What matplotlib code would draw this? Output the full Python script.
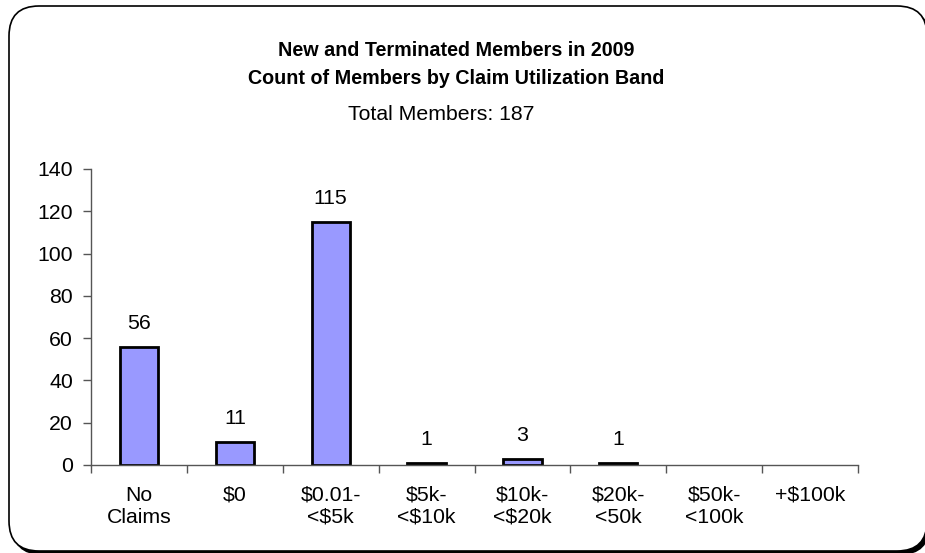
import matplotlib.pyplot as plt
from matplotlib.patches import FancyBboxPatch

categories = ['No\nClaims', '$0', '$0.01-\n<$5k', '$5k-\n<$10k', '$10k-\n<$20k',
              '$20k-\n<50k', '$50k-\n<100k', '+$100k']
members = [56, 11, 115, 1, 3, 1, 0, 0]
labels = ['56', '11', '115', '1', '3', '1', '', '']
yticks = [0, 20, 40, 60, 80, 100, 120, 140]

plt.rcParams['font.family'] = ['Liberation Sans', 'DejaVu Sans']

W, H = 925, 553
fig = plt.figure(figsize=(W / 100, H / 100), dpi=100)


def box(x0, y0, x1, y1):
    # pixel box (top-left origin) -> figure fraction
    return x0 / W, 1 - y1 / H, (x1 - x0) / W, (y1 - y0) / H


# rounded frame with a dark shadow on the lower right
r = 30 / W
sx, sy, sw, sh = box(12, 9, 930, 555)
shadow = FancyBboxPatch((sx, sy), sw, sh, boxstyle=f'round,pad=0,rounding_size={r}',
                        transform=fig.transFigure, facecolor='black', edgecolor='none',
                        mutation_aspect=W / H, zorder=0)
fx, fy, fw, fh = box(9, 6, 927, 551)
frame = FancyBboxPatch((fx, fy), fw, fh, boxstyle=f'round,pad=0,rounding_size={r}',
                       transform=fig.transFigure, facecolor='white', edgecolor='black',
                       linewidth=1.2, mutation_aspect=W / H, zorder=1)
fig.patches.extend([shadow, frame])

ax = fig.add_axes(box(91, 169, 858, 465))
ax.set_zorder(2)
ax.patch.set_alpha(0)

x = range(len(categories))
bars = ax.bar(x, members, width=0.4, color='#9999FF', edgecolor='black',
              linewidth=[2 if v > 0 else 0 for v in members])
for b, lab in zip(bars, labels):
    if lab:
        ax.text(b.get_x() + b.get_width() / 2, b.get_height() + 11, lab,
                ha='center', va='center', fontsize=15.3)

ax.set_xlim(-0.5, len(categories) - 0.5)
ax.set_ylim(0, 140)
ax.set_yticks(yticks)
ax.set_xticks([i - 0.5 for i in range(len(categories) + 1)])
ax.set_xticklabels([])
ax.set_xticks(list(x), minor=True)
ax.set_xticklabels(categories, minor=True, fontsize=15.3)
ax.tick_params(axis='x', which='minor', length=0, pad=15)
ax.tick_params(axis='x', which='major', length=6, width=1, color='#555555', direction='out')
ax.tick_params(axis='y', length=6, width=1, color='#555555', labelsize=15.3, pad=7)
for s in ['top', 'right']:
    ax.spines[s].set_visible(False)
for s in ['left', 'bottom']:
    ax.spines[s].set_color('#555555')
    ax.spines[s].set_linewidth(1)

fig.text(456 / W, 1 - 50 / H, 'New and Terminated Members in 2009', ha='center', va='center',
         fontsize=14.2, fontweight='bold', zorder=3)
fig.text(456 / W, 1 - 78 / H, 'Count of Members by Claim Utilization Band', ha='center', va='center',
         fontsize=14.2, fontweight='bold', zorder=3)
fig.text(441 / W, 1 - 115 / H, 'Total Members: 187', ha='center', va='center',
         fontsize=15.3, zorder=3)

fig.savefig('out.png', dpi=100)
